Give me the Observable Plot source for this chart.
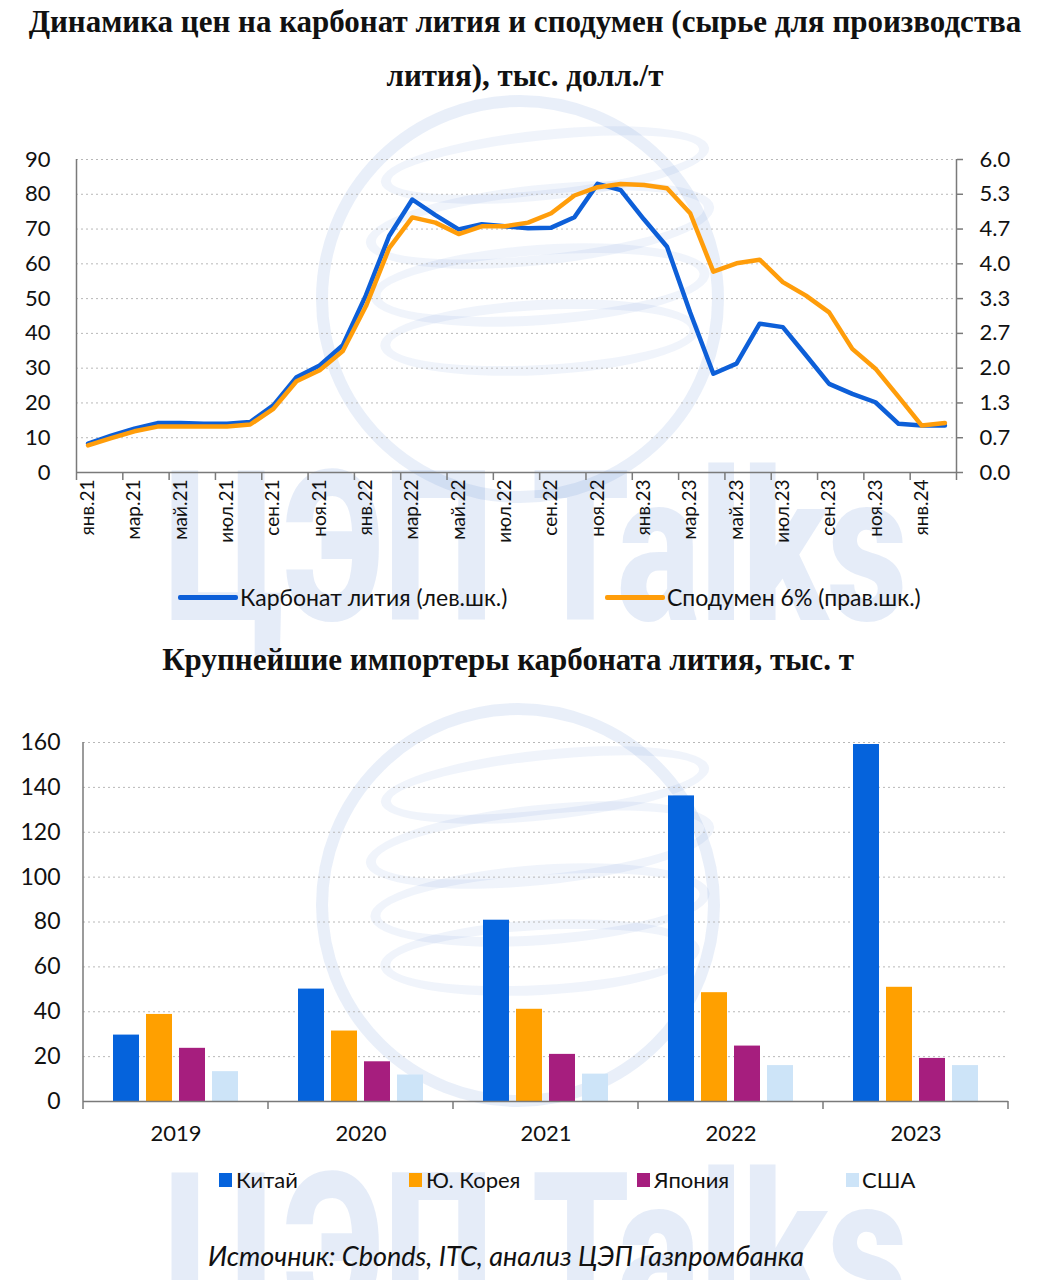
<!DOCTYPE html>
<html lang="ru">
<head>
<meta charset="utf-8">
<script src="https://cdn.jsdelivr.net/npm/d3@7"></script>
<script src="https://cdn.jsdelivr.net/npm/@observablehq/plot@0.6"></script>
<style>
  html,body{margin:0;padding:0;background:#fff;}
  body{width:1056px;height:1280px;position:relative;overflow:hidden;font-family:Lato,"Open Sans",sans-serif;color:#111;}
  .abs{position:absolute;}
  .ttl{font-family:"Liberation Serif","Times New Roman",serif;font-weight:bold;color:#111;white-space:nowrap;text-align:center;}
  .wm{font-family:Roboto,sans-serif;font-weight:900;color:rgba(40,100,200,0.12);white-space:nowrap;transform-origin:left top;line-height:1;}
  .ring{border:12px solid rgba(40,100,200,0.10);border-radius:50%;box-sizing:border-box;}
  .swirl{border:10px solid rgba(40,100,200,0.07);border-radius:50%;box-sizing:border-box;}
  .leg{font-size:23px;white-space:nowrap;line-height:26px;}
</style>
</head>
<body>
<!-- watermark (decorative) -->
<div class="abs ring" style="left:316px;top:95px;width:408px;height:408px"></div>
<div class="abs swirl" style="left:380px;top:130px;width:330px;height:70px;transform:rotate(-6deg)"></div>
<div class="abs swirl" style="left:365px;top:185px;width:350px;height:80px;transform:rotate(-6deg)"></div>
<div class="abs swirl" style="left:370px;top:245px;width:340px;height:80px;transform:rotate(-4deg)"></div>
<div class="abs swirl" style="left:380px;top:300px;width:320px;height:75px;transform:rotate(-3deg)"></div>
<div class="abs ring" style="left:316px;top:703px;width:404px;height:404px"></div>
<div class="abs swirl" style="left:380px;top:750px;width:330px;height:70px;transform:rotate(-6deg)"></div>
<div class="abs swirl" style="left:365px;top:805px;width:350px;height:80px;transform:rotate(-6deg)"></div>
<div class="abs swirl" style="left:370px;top:865px;width:340px;height:80px;transform:rotate(-4deg)"></div>
<div class="abs swirl" style="left:380px;top:920px;width:320px;height:75px;transform:rotate(-3deg)"></div>
<div class="abs wm" style="left:165px;top:443px;font-size:210px;transform:scaleX(0.74)">ЦЭП Talks</div>
<div class="abs wm" style="left:165px;top:1145px;font-size:210px;transform:scaleX(0.74)">ЦЭП Talks</div>

<div class="abs ttl" style="left:0;top:0;width:1050px;font-size:31px;line-height:44px;">Динамика цен на карбонат лития и сподумен (сырье для производства</div>
<div class="abs ttl" style="left:0;top:54px;width:1050px;font-size:31px;line-height:44px;">лития), тыс. долл./т</div>

<div id="c1" class="abs" style="left:0;top:140px;"></div>

<div id="leg1"></div>

<div class="abs ttl" style="left:0;top:638px;width:1016px;font-size:31px;line-height:44px;">Крупнейшие импортеры карбоната лития, тыс. т</div>

<div id="c2" class="abs" style="left:0;top:725px;"></div>

<div id="leg2"></div>

<div class="abs" style="left:208px;top:1239px;font-size:27px;font-style:italic;line-height:34px;white-space:nowrap;">Источник: Cbonds, ITC, анализ ЦЭП Газпромбанка</div>

<script>
// ---------- DATA: chart 1 (monthly prices) ----------
const months = ["янв.21","фев.21","мар.21","апр.21","май.21","июн.21","июл.21","авг.21","сен.21","окт.21","ноя.21","дек.21",
                "янв.22","фев.22","мар.22","апр.22","май.22","июн.22","июл.22","авг.22","сен.22","окт.22","ноя.22","дек.22",
                "янв.23","фев.23","мар.23","апр.23","май.23","июн.23","июл.23","авг.23","сен.23","окт.23","ноя.23","дек.23",
                "янв.24","фев.24"];
// Карбонат лития, тыс. долл./т (left scale)
const lithium = [8.3, 10.6, 12.6, 14.2, 14.2, 14.0, 14.0, 14.5, 19.3, 27.4, 30.8, 36.6,
                 51.0, 68.0, 78.5, 74.0, 69.9, 71.4, 70.8, 70.2, 70.4, 73.4, 83.0, 81.2,
                 72.8, 64.9, 46.0, 28.4, 31.3, 42.8, 41.8, 33.7, 25.5, 22.6, 20.2, 14.0,
                 13.5, 13.5];
// Сподумен 6%, тыс. долл./т (right scale)
const spodumene = [0.52, 0.66, 0.79, 0.88, 0.88, 0.88, 0.88, 0.92, 1.22, 1.75, 1.96, 2.33,
                   3.19, 4.30, 4.89, 4.79, 4.57, 4.72, 4.72, 4.79, 4.97, 5.31, 5.47, 5.53,
                   5.51, 5.45, 4.97, 3.85, 4.01, 4.08, 3.65, 3.39, 3.07, 2.37, 1.99, 1.45,
                   0.90, 0.95];
const leftTicks = [0, 10, 20, 30, 40, 50, 60, 70, 80, 90];
const seriesNames1 = ["Карбонат лития (лев.шк.)", "Сподумен 6% (прав.шк.)"];
const seriesColors1 = ["#0d5fd8", "#ff9d0a"];

// ---------- DATA: chart 2 (importers) ----------
const years = ["2019", "2020", "2021", "2022", "2023"];
const countries = ["Китай", "Ю. Корея", "Япония", "США"];
const china = [29.6, 50.1, 80.8, 136.2, 159.1];
const korea = [38.8, 31.4, 41.1, 48.5, 50.9];
const japan = [23.7, 17.7, 21.0, 24.7, 19.2];
const usa   = [13.3, 11.8, 12.2, 16.0, 16.0];
const barTicks = [0, 20, 40, 60, 80, 100, 120, 140, 160];
const barColors = ["#0563dc", "#ffa000", "#a61e7e", "#cde4f8"];

// ---------- CHART 1 ----------
const RATIO = 90 / 6; // left 0..90 <-> right 0..6
const rows1 = months.map((m, i) => ({i, m, li: lithium[i], sp: spodumene[i]}));
const n = months.length;
const axisGrey = "#7a7a7a";

const p1 = Plot.plot({
  width: 1056, height: 425,
  marginLeft: 76, marginRight: 100, marginTop: 19, marginBottom: 93,
  style: {fontFamily: "Lato, sans-serif", fontSize: "22px", color: "#111", background: "transparent"},
  x: {type: "linear", domain: [-0.5, n - 0.5]},
  y: {domain: [0, 90]},
  marks: [
    Plot.gridY(leftTicks.filter(d => d > 0), {stroke: "#b8b8b8", strokeOpacity: 1, strokeDasharray: "2,3"}),
    Plot.ruleX([-0.5], {stroke: axisGrey, strokeWidth: 1.5}),
    Plot.ruleX([n - 0.5], {stroke: axisGrey, strokeWidth: 1.5}),
    Plot.ruleY([0], {stroke: axisGrey, strokeWidth: 1.5}),
    Plot.axisY(leftTicks, {anchor: "left", tickSize: 0, tickPadding: 26, label: null, fontSize: 22}),
    Plot.axisY(leftTicks, {anchor: "right", tickSize: 6, tickPadding: 17, label: null, fontSize: 22,
      stroke: axisGrey, strokeWidth: 1.5, tickFormat: v => (v / RATIO).toFixed(1)}),
    Plot.axisX(d3.range(-0.5, n, 2), {anchor: "bottom", tickSize: 8, tickFormat: () => "", label: null,
      stroke: axisGrey, strokeWidth: 1.5}),
    Plot.axisX(d3.range(0, n - 1, 2), {anchor: "bottom", tickSize: 0, tickPadding: 7, tickRotate: -90,
      tickFormat: i => months[i], label: null, fontSize: 19}),
    Plot.line(rows1, {x: "i", y: "li", stroke: seriesColors1[0], strokeWidth: 4.5}),
    Plot.line(rows1, {x: "i", y: d => d.sp * RATIO, stroke: seriesColors1[1], strokeWidth: 4.5})
  ]
});
document.getElementById("c1").append(p1);

// legend 1
const leg1 = document.getElementById("leg1");
const leg1Pos = [{sw: 178, tx: 240}, {sw: 605, tx: 667}];
seriesNames1.forEach((name, k) => {
  const s = document.createElement("div");
  s.className = "abs";
  s.style.cssText = `left:${leg1Pos[k].sw}px;top:595px;width:60px;height:5px;background:${seriesColors1[k]};border-radius:2px;`;
  leg1.append(s);
  const t = document.createElement("div");
  t.className = "abs leg";
  t.style.cssText = `left:${leg1Pos[k].tx}px;top:584px;`;
  t.textContent = name;
  leg1.append(t);
});

// ---------- CHART 2 ----------
const series2 = [china, korea, japan, usa];
const rows2 = years.flatMap((yr, i) => countries.map((c, j) => ({year: yr, country: c, value: series2[j][i]})));

const p2 = Plot.plot({
  width: 1056, height: 427,
  marginLeft: 82, marginRight: 48, marginTop: 17, marginBottom: 51,
  style: {fontFamily: "Lato, sans-serif", fontSize: "22px", color: "#111", background: "transparent"},
  fx: {domain: years, padding: 0, label: null},
  x: {domain: countries, paddingInner: 0.224, paddingOuter: 0.88, axis: null},
  y: {domain: [0, 160], label: null},
  color: {domain: countries, range: barColors},
  marks: [
    Plot.gridY(barTicks.filter(d => d > 0), {stroke: "#b8b8b8", strokeOpacity: 1, strokeDasharray: "2,3"}),
    Plot.axisY(barTicks, {anchor: "left", tickSize: 0, tickPadding: 23, label: null, fontSize: 23}),
    Plot.barY(rows2, {fx: "year", x: "country", y: "value", fill: "country"}),
    Plot.ruleY([0], {stroke: axisGrey, strokeWidth: 1.5}),
    Plot.axisFx({anchor: "bottom", tickSize: 0, tickPadding: 24, label: null, fontSize: 22})
  ]
});
// axis line on the left and category-boundary ticks, placed from the plot's own scales
{
  const fx = p2.scale("fx"), y = p2.scale("y");
  const y0 = y.apply(0), yTop = y.apply(160);
  const g = d3.select(p2).append("g").attr("stroke", axisGrey).attr("stroke-width", 1.5);
  const x0 = fx.apply(years[0]);
  g.append("line").attr("x1", x0).attr("x2", x0).attr("y1", yTop).attr("y2", y0 + 8);
  years.forEach(yr => {
    const xb = fx.apply(yr) + fx.bandwidth;
    g.append("line").attr("x1", xb).attr("x2", xb).attr("y1", y0).attr("y2", y0 + 8);
  });
}
document.getElementById("c2").append(p2);

// legend 2
const leg2 = document.getElementById("leg2");
const leg2Pos = [{sw: 219, tx: 236}, {sw: 409, tx: 426}, {sw: 637, tx: 654}, {sw: 846, tx: 862}];
countries.forEach((c, k) => {
  const s = document.createElement("div");
  s.className = "abs";
  s.style.cssText = `left:${leg2Pos[k].sw}px;top:1173px;width:13px;height:14px;background:${barColors[k]};`;
  leg2.append(s);
  const t = document.createElement("div");
  t.className = "abs leg";
  t.style.cssText = `left:${leg2Pos[k].tx}px;top:1167px;font-size:22px;`;
  t.textContent = c;
  leg2.append(t);
});
</script>
</body>
</html>
